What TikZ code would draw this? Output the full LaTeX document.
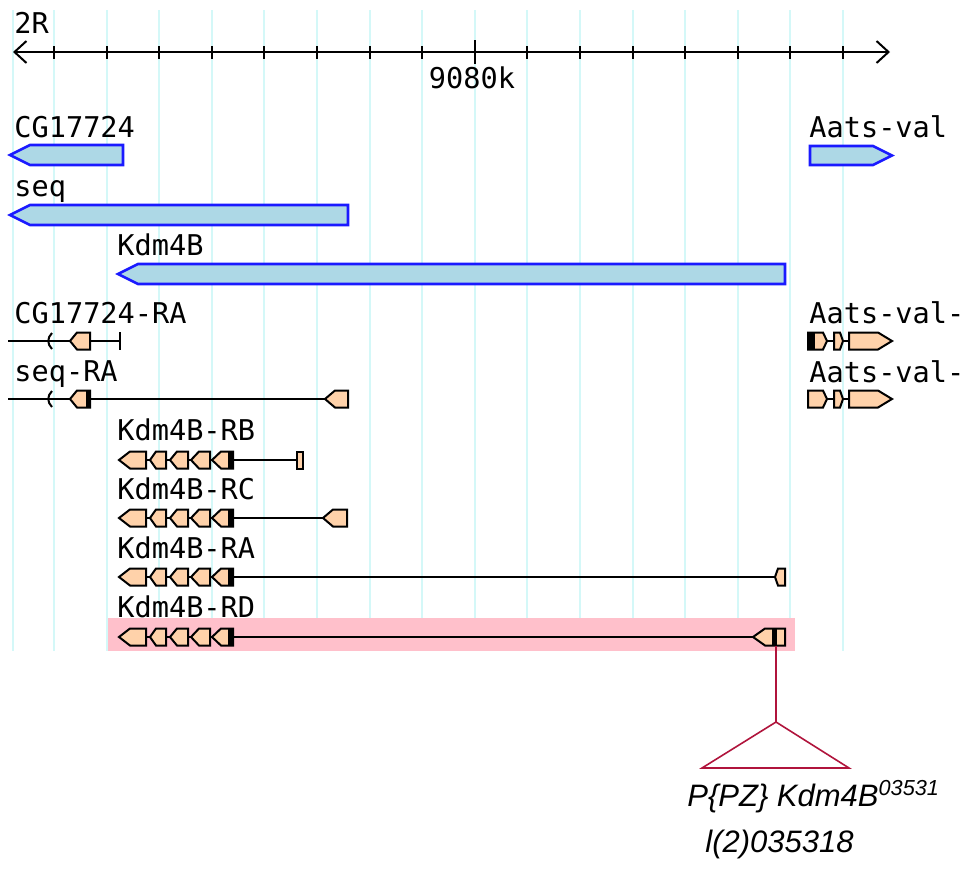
\documentclass[tikz,border=0pt]{standalone}
\usepackage{fontspec}
\usepackage{tikz}
\usetikzlibrary{arrows.meta}
\newfontfamily\gbmono{DejaVu Sans Mono}
\newfontfamily\gbsans{Liberation Sans}
\definecolor{gbgrid}{HTML}{D4F8F8}
\definecolor{gbgene}{HTML}{ADD8E6}
\definecolor{gbedge}{HTML}{1A1AFF}
\definecolor{gbexon}{HTML}{FFD2AA}
\definecolor{gbhilite}{HTML}{FFC0CB}
\definecolor{gbins}{HTML}{B0143C}
\tikzset{
  gridl/.style={draw=gbgrid,line width=1pt},
  gene/.style={draw=gbedge,line width=1.3pt,fill=gbgene},
  exon/.style={draw=black,line width=1pt,fill=gbexon},
  intron/.style={draw=black,line width=1pt},
  cds/.style={fill=black},
  tickl/.style={draw=black,line width=1pt},
  tlab/.style={font=\gbmono\fontsize{14.3}{16}\selectfont,anchor=base west,inner sep=0pt},
  ins/.style={draw=gbins,line width=0.8pt},
  inslab/.style={font=\gbsans\itshape\fontsize{15.5}{18}\selectfont,anchor=base west,inner sep=0pt},
}
% exon glyph: tip x, notch x, blunt end x, centre y
\newcommand{\exon}[4]{\filldraw[exon] (#1,#4) -- (#2,#4-8.5) -- (#3,#4-8.5) -- (#3,#4+8.5) -- (#2,#4+8.5) -- cycle;}

\begin{document}
\begin{tikzpicture}[x=0.5pt,y=-0.5pt]
  \fill[white] (0,0) rectangle (969,868);
  \useasboundingbox (0,0) rectangle (969,868);
  % grid
  \draw[gridl] (13,10) -- (13,651);
  \foreach \k in {0,...,15}
    \draw[gridl] ({54+52.6*\k},10) -- ({54+52.6*\k},651);
  \fill[gbhilite] (108,618) rectangle (795,651);
  % scale
  \coordinate (axl) at (13,52);
  \coordinate (axr) at (890,52);
  \draw[tickl,{Straight Barb[length=6pt,width=11pt]}-{Straight Barb[length=6pt,width=11pt]}] (axl) -- (axr);
  \foreach \k in {0,...,15}
    \draw[tickl] ({54+52.6*\k},46) -- ({54+52.6*\k},59);
  \draw[tickl] (474.8,40) -- (474.8,64);
  \node[tlab] (chr) at (14,33) {2R};
  \node[tlab,anchor=base] (pos) at (472,88) {9080k};
  % genes
  \node[tlab] (cgname) at (14,137) {CG17724};
  \draw[gene] (123,145) -- (30,145) -- (10,155) -- (30,165) -- (123,165) -- cycle;
  \node[tlab] (seqname) at (14,196) {seq};
  \draw[gene] (348,205) -- (30,205) -- (10,215) -- (30,225) -- (348,225) -- cycle;
  \node[tlab] (kdmname) at (117,255) {Kdm4B};
  \draw[gene] (785,264) -- (138,264) -- (118,274) -- (138,284) -- (785,284) -- cycle;
  \node[tlab] (aatsname) at (809,137) {Aats-val};
  \draw[gene] (810,146) -- (873,146) -- (892,155.5) -- (873,165) -- (810,165) -- cycle;
  % CG17724-RA
  \node[tlab] (cgra) at (14,323) {CG17724-RA};
  \draw[intron] (8,341) -- (120,341);
  \draw[intron] (120,332) -- (120,350);
  \draw[intron] (52,333) .. controls (47,338) and (47,344) .. (52,349);
  \exon{70}{77}{90}{341}
  % seq-RA
  \node[tlab] (seqra) at (14,381) {seq-RA};
  \draw[intron] (8,399) -- (330,399);
  \draw[intron] (52,391) .. controls (47,396) and (47,402) .. (52,407);
  \exon{70}{77}{90}{399}
  \fill[cds] (86,390.5) rectangle (91,407.5);
  \exon{325}{335}{348}{399}
  % Aats-val transcripts
  \node[tlab] (aatsra) at (809,323) {Aats-val-};
  \draw[intron] (808,341) -- (849,341);
  \exon{827}{823}{808}{341}
  \fill[cds] (808,332.5) rectangle (815,349.5);
  \exon{843}{840}{834}{341}
  \exon{892}{878}{849}{341}
  \node[tlab] (aatsrb) at (809,382) {Aats-val-};
  \draw[intron] (808,399) -- (849,399);
  \exon{827}{823}{808}{399}
  \exon{843}{840}{834}{399}
  \exon{892}{878}{849}{399}
  % Kdm4B transcripts
  \node[tlab] (kdmrb) at (117,440) {Kdm4B-RB};
  \draw[intron] (119,460) -- (300,460);
  \filldraw[exon] (297,451.5) rectangle (303,468.5);
  \node[tlab] (kdmrc) at (117,499) {Kdm4B-RC};
  \draw[intron] (119,518) -- (330,518);
  \exon{323}{333}{347}{518}
  \node[tlab] (kdmra) at (117,558) {Kdm4B-RA};
  \draw[intron] (119,577) -- (778,577);
  \exon{775}{778}{785}{577}
  \node[tlab] (kdmrd) at (117,617) {Kdm4B-RD};
  \draw[intron] (119,637) -- (760,637);
  \exon{753}{765}{785}{637}
  \fill[cds] (772,628.5) rectangle (777,645.5);
  \foreach \y in {460,518,577,637}{
    \exon{119}{130}{146}{\y}
    \exon{150}{156}{166}{\y}
    \exon{170}{177}{188}{\y}
    \exon{191}{199}{210}{\y}
    \exon{212}{221}{233}{\y}
    \fill[cds] (228,\y-8.5) rectangle (233,\y+8.5);
  }
  % insertion
  \coordinate (insite) at (776,646);
  \coordinate (apex) at (776,722);
  \coordinate (basel) at (702,768);
  \coordinate (baser) at (849,768);
  \draw[ins] (insite) -- (apex);
  \draw[ins] (apex) -- (basel) -- (baser) -- cycle;
  \node[inslab] (allele) at (687,806) {P\{PZ\} Kdm4B\textsuperscript{03531}};
  \node[inslab] (lethal) at (705,852) {l(2)035318};
\end{tikzpicture}
\end{document}
